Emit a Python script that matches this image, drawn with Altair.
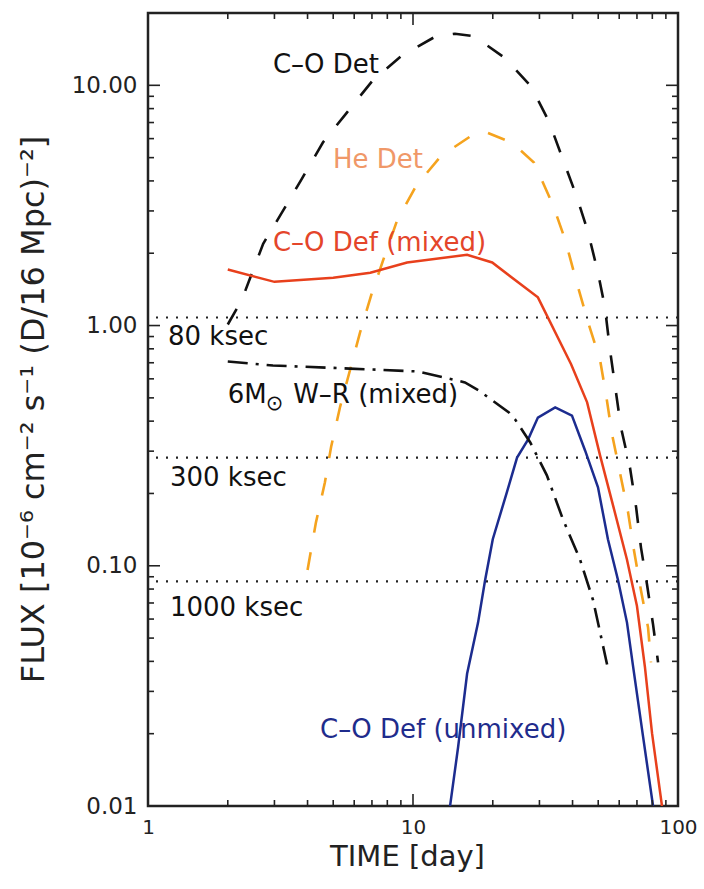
import altair as alt
import pandas as pd

# ---------------- data ----------------
co_det_t = [2.0, 2.26, 2.72, 3.2, 3.81, 4.57, 5.63, 7.06, 9.0, 12.2, 14.4, 17.0, 22.2, 27.9,
            32.6, 36.8, 41.6, 45.8, 49.9, 53.0, 55.4, 58.3, 60.9, 65.9, 69.5, 72.5, 76.4, 80.5, 84.1]
co_det_f = [1.01, 1.28, 2.19, 2.95, 4.09, 5.78, 7.7, 10.5, 13.2, 16.0, 16.4, 16.0, 13.0, 9.9,
            7.06, 4.91, 3.41, 2.44, 1.66, 1.19, 0.79, 0.53, 0.377, 0.256, 0.175, 0.119, 0.0836, 0.057, 0.0396]

he_det_t = [4.0, 4.3, 4.65, 4.91, 5.3, 5.78, 6.31, 7.0, 7.78, 8.7, 10.3, 12.8, 17.1, 18.7, 23.6,
            28.6, 33.8, 37.5, 41.2, 45.8, 50.8, 53.5, 56.4, 60.4, 64.8, 68.2, 72.5, 77.1, 79.1]
he_det_f = [0.096, 0.151, 0.222, 0.313, 0.456, 0.65, 0.935, 1.37, 1.92, 2.73, 3.83, 5.1, 6.3, 6.4, 5.78,
            4.77, 3.16, 2.28, 1.55, 1.03, 0.72, 0.516, 0.352, 0.244, 0.167, 0.116, 0.0789, 0.0553, 0.0396]

co_def_mixed_t = [2.0, 3.0, 5.0, 6.9, 9.5, 16.0, 19.9, 29.6, 39.5, 45.4, 50.8, 56.9, 64.2, 70.0, 75.0, 79.8, 87.0]
co_def_mixed_f = [1.71, 1.52, 1.58, 1.66, 1.83, 1.97, 1.83, 1.31, 0.69, 0.479, 0.288, 0.178, 0.106, 0.068, 0.038, 0.0201, 0.01]

co_def_unmixed_t = [13.8, 14.8, 16.0, 17.6, 18.7, 20.0, 22.6, 24.7, 27.2, 29.6, 34.4, 39.8, 44.6,
                    49.9, 54.4, 59.4, 64.2, 67.6, 73.8, 80.5]
co_def_unmixed_f = [0.01, 0.0176, 0.0355, 0.058, 0.0869, 0.129, 0.202, 0.282, 0.336, 0.414, 0.456, 0.422, 0.302,
                    0.212, 0.129, 0.087, 0.058, 0.0385, 0.0195, 0.01]

wr_t = [2.0, 2.96, 5.78, 10.4, 15.7, 17.7, 19.9, 23.0, 24.3, 27.7, 32.0, 36.8, 42.7, 47.8, 54.0]
wr_f = [0.708, 0.682, 0.662, 0.644, 0.58, 0.537, 0.488, 0.435, 0.406, 0.326, 0.238, 0.156, 0.106, 0.072, 0.0388]

sens_flux = [1.08, 0.282, 0.0861]

label_text = ["C–O Det", "He Det", "C–O Def (mixed)", "80 ksec", "6M", "⊙", "W–R (mixed)",
              "300 ksec", "1000 ksec", "C–O Def (unmixed)"]
label_t = [2.96, 4.99, 2.96, 1.19, 2.0, 2.78, 3.53, 1.21, 1.21, 4.46]
label_f = [12.2, 4.91, 2.21, 0.90, 0.516, 0.47, 0.516, 0.233, 0.067, 0.0208]
label_color = ["#111111", "#F09868", "#E4452A", "#111111", "#111111", "#111111", "#111111",
               "#111111", "#111111", "#1F2C8C"]
label_big = [True, True, True, True, True, False, True, True, True, True]

x_major = [1, 10, 100]
x_minor = [2, 3, 4, 5, 6, 7, 8, 9, 20, 30, 40, 50, 60, 70, 80, 90]
y_major = [0.01, 0.1, 1, 10]
y_minor = [0.02, 0.03, 0.04, 0.05, 0.06, 0.07, 0.08, 0.09,
           0.2, 0.3, 0.4, 0.5, 0.6, 0.7, 0.8, 0.9,
           2, 3, 4, 5, 6, 7, 8, 9, 20]

# ---------------- chart ----------------
W, H = 530, 793
FONT = "DejaVu Sans"
MAJOR_LEN, MINOR_LEN = 12, 6
LBL_BIG, LBL_SMALL = 26, 21

xs = alt.Scale(type="log", domain=[1, 100])
ys = alt.Scale(type="log", domain=[0.01, 20])

x_axis = alt.Axis(values=x_major, format="d", ticks=False, domain=False, grid=False,
                  labelFont=FONT, labelFontSize=20, labelColor="#222", labelPadding=11,
                  labelFlush=False, labelOverlap=False,
                  title="TIME [day]", titleFont=FONT, titleFontSize=29, titleFontWeight="normal",
                  titleColor="#222", titleX=259, titleY=59, titleAlign="center",
                  titleBaseline="alphabetic")
y_axis = alt.Axis(values=y_major, format=".2f", ticks=False, domain=False, grid=False,
                  labelFont=FONT, labelFontSize=23, labelColor="#222", labelPadding=11,
                  labelFlush=False, labelOverlap=False,
                  title="FLUX [10⁻⁶ cm⁻² s⁻¹ (D/16 Mpc)⁻²]", titleFont=FONT, titleFontSize=32,
                  titleFontWeight="normal", titleColor="#222", titleAngle=-90,
                  titleX=-115, titleY=396, titleAlign="center", titleBaseline="middle")


def X(field):
    return alt.X(field, type="quantitative", scale=xs, axis=x_axis)


def Y(field):
    return alt.Y(field, type="quantitative", scale=ys, axis=y_axis)


def series(t, f):
    return pd.DataFrame({"t": t, "f": f})


sens = alt.Chart(pd.DataFrame({"f": sens_flux})).mark_rule(
    color="#222", strokeWidth=2.2, strokeDash=[2, 8]
).encode(y=Y("f"))

co_det = alt.Chart(series(co_det_t, co_det_f)).mark_line(
    color="#111", strokeWidth=2.6, strokeDash=[18, 20], clip=True
).encode(x=X("t"), y=Y("f"), order="t:Q")

he_det = alt.Chart(series(he_det_t, he_det_f)).mark_line(
    color="#F5A31E", strokeWidth=2.6, strokeDash=[18, 20], clip=True
).encode(x=X("t"), y=Y("f"), order="t:Q")

co_mix = alt.Chart(series(co_def_mixed_t, co_def_mixed_f)).mark_line(
    color="#E8401C", strokeWidth=2.5, clip=True
).encode(x=X("t"), y=Y("f"), order="t:Q")

co_unmix = alt.Chart(series(co_def_unmixed_t, co_def_unmixed_f)).mark_line(
    color="#1C2C8F", strokeWidth=2.5, clip=True
).encode(x=X("t"), y=Y("f"), order="t:Q")

wr = alt.Chart(series(wr_t, wr_f)).mark_line(
    color="#111", strokeWidth=2.6, strokeDash=[20, 8, 3, 8], clip=True
).encode(x=X("t"), y=Y("f"), order="t:Q")

lab_df = pd.DataFrame({"t": label_t, "f": label_f, "text": label_text, "color": label_color,
                       "size": [LBL_BIG if b else LBL_SMALL for b in label_big]})
labels = alt.Chart(lab_df).mark_text(
    align="left", baseline="middle", font=FONT
).encode(x=X("t"), y=Y("f"), text="text:N",
         color=alt.Color("color:N", scale=None),
         size=alt.Size("size:Q", scale=None))


def tick_df(major, minor):
    return pd.DataFrame({"v": list(major) + list(minor),
                         "len": [2 * MAJOR_LEN] * len(major) + [2 * MINOR_LEN] * len(minor)})


xt = tick_df(x_major, x_minor)
yt = tick_df(y_major, y_minor)
tick_style = dict(color="#222", thickness=1.6, opacity=1, clip=True)

bottom_ticks = alt.Chart(xt).mark_tick(orient="vertical", **tick_style).encode(
    x=X("v"), y=alt.value(H), size=alt.Size("len:Q", scale=None))
top_ticks = alt.Chart(xt).mark_tick(orient="vertical", **tick_style).encode(
    x=X("v"), y=alt.value(0), size=alt.Size("len:Q", scale=None))
left_ticks = alt.Chart(yt).mark_tick(orient="horizontal", **tick_style).encode(
    y=Y("v"), x=alt.value(0), size=alt.Size("len:Q", scale=None))
right_ticks = alt.Chart(yt).mark_tick(orient="horizontal", **tick_style).encode(
    y=Y("v"), x=alt.value(W), size=alt.Size("len:Q", scale=None))

chart = alt.layer(
    sens, co_det, he_det, co_mix, co_unmix, wr, labels,
    bottom_ticks, top_ticks, left_ticks, right_ticks
).properties(
    width=W, height=H,
    autosize=alt.AutoSizeParams(type="none"),
    padding={"left": 148, "top": 13, "right": 26, "bottom": 83},
    background="white"
).configure_view(
    stroke="#222", strokeWidth=2.5
)

chart.save("out.html", embed_options={"renderer": "svg", "actions": False})
